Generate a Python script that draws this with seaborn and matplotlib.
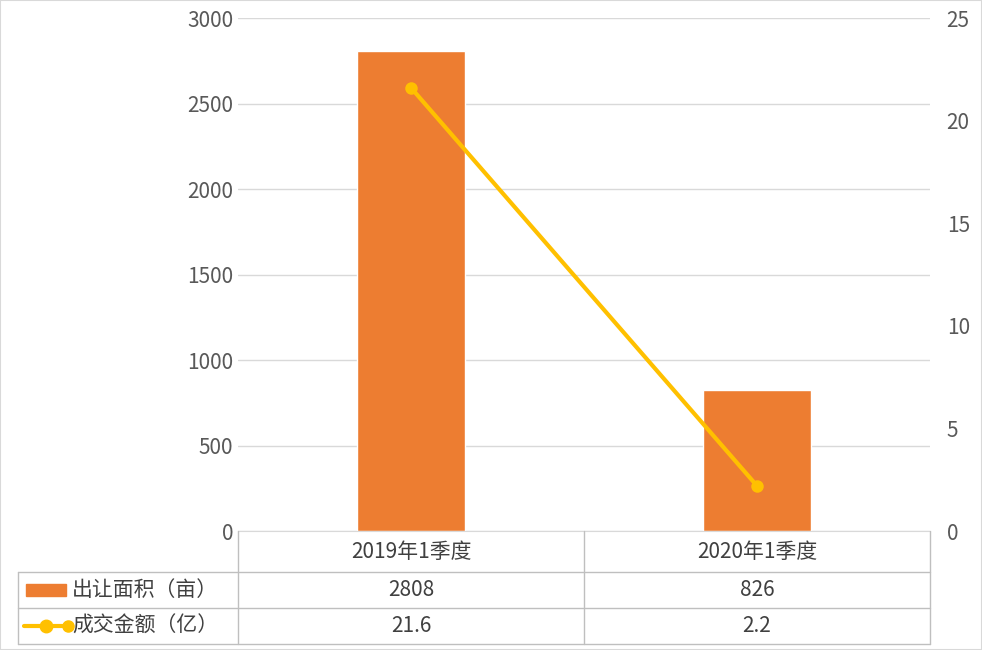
import matplotlib
matplotlib.use('Agg')
import matplotlib.pyplot as plt
import seaborn as sns
import pandas as pd

categories = ['2019年1季度', '2020年1季度']
area = [2808, 826]
amount = [21.6, 2.2]
area_label = '出让面积（亩）'
amount_label = '成交金额（亿）'

sns.set_style('white')
plt.rcParams['font.family'] = ['Noto Sans CJK SC', 'DejaVu Sans']

W, H = 982, 650
fig = plt.figure(figsize=(9.82, 6.5), dpi=100)
x0, x1, ytop, ybot = 238, 930, 18, 531
ax = fig.add_axes([x0 / W, 1 - ybot / H, (x1 - x0) / W, (ybot - ytop) / H])

df = pd.DataFrame({'cat': categories, 'area': area, 'amount': amount})
sns.barplot(data=df, x='cat', y='area', color='#ED7D31', saturation=1,
            width=0.31, ax=ax)
ax.set_ylim(0, 3000)
ax.set_yticks(range(0, 3001, 500))
ax.yaxis.grid(True, color='#D9D9D9', lw=1)
ax.set_axisbelow(True)
ax.set_xlabel('')
ax.set_ylabel('')
ax.set_xticklabels([])
ax.tick_params(axis='both', length=0, labelsize=15, colors='#595959')
for s in ['top', 'left', 'right']:
    ax.spines[s].set_visible(False)
ax.spines['bottom'].set_color('#D9D9D9')

ax2 = ax.twinx()
sns.lineplot(x=[0, 1], y=amount, color='#FFC000', lw=3, marker='o',
             markersize=9, markeredgewidth=0, ax=ax2)
ax2.set_ylim(0, 25)
ax2.set_yticks(range(0, 26, 5))
ax2.tick_params(axis='y', length=0, labelsize=15, colors='#595959', pad=12)
for s in ['top', 'left', 'right', 'bottom']:
    ax2.spines[s].set_visible(False)
ax.set_xlim(-0.5, 1.5)

# data table
lc = '#BFBFBF'
rows = [531, 572, 608, 644]
def fy(y):
    return 1 - y / H
def fx(x):
    return x / W
mid = (x0 + x1) / 2
for y in rows[1:]:
    fig.add_artist(plt.Line2D([fx(18), fx(x1)], [fy(y), fy(y)], color=lc, lw=1))
for x in [x0, mid, x1]:
    fig.add_artist(plt.Line2D([fx(x), fx(x)], [fy(rows[0]), fy(rows[3])], color=lc, lw=1))
fig.add_artist(plt.Line2D([fx(18), fx(18)], [fy(rows[1]), fy(rows[3])], color=lc, lw=1))

centers = [(x0 + mid) / 2, (mid + x1) / 2]
tc = '#404040'
for i, c in enumerate(centers):
    fig.text(fx(c), fy((rows[0] + rows[1]) / 2), categories[i], ha='center', va='center', fontsize=15, color=tc)
    fig.text(fx(c), fy((rows[1] + rows[2]) / 2), str(area[i]), ha='center', va='center', fontsize=15, color=tc)
    fig.text(fx(c), fy((rows[2] + rows[3]) / 2), str(amount[i]), ha='center', va='center', fontsize=15, color=tc)

# legend keys
ym1 = (rows[1] + rows[2]) / 2
ym2 = (rows[2] + rows[3]) / 2
fig.add_artist(plt.Rectangle((fx(26), fy(ym1 + 6)), 40 / W, 12 / H, color='#ED7D31'))
fig.add_artist(plt.Line2D([fx(24), fx(68)], [fy(ym2), fy(ym2)], color='#FFC000', lw=3,
                          marker='o', markevery=[1], markersize=8))
fig.add_artist(plt.Line2D([fx(46)], [fy(ym2)], color='#FFC000', marker='o', markersize=9, lw=0))
fig.text(fx(72), fy(ym1), area_label, va='center', fontsize=15, color=tc)
fig.text(fx(72), fy(ym2), amount_label, va='center', fontsize=15, color=tc)

fig.add_artist(plt.Rectangle((0, 0), 1, 1, fill=False, ec='#D9D9D9', lw=1.5,
                             transform=fig.transFigure))
fig.savefig('out.png', dpi=100)
